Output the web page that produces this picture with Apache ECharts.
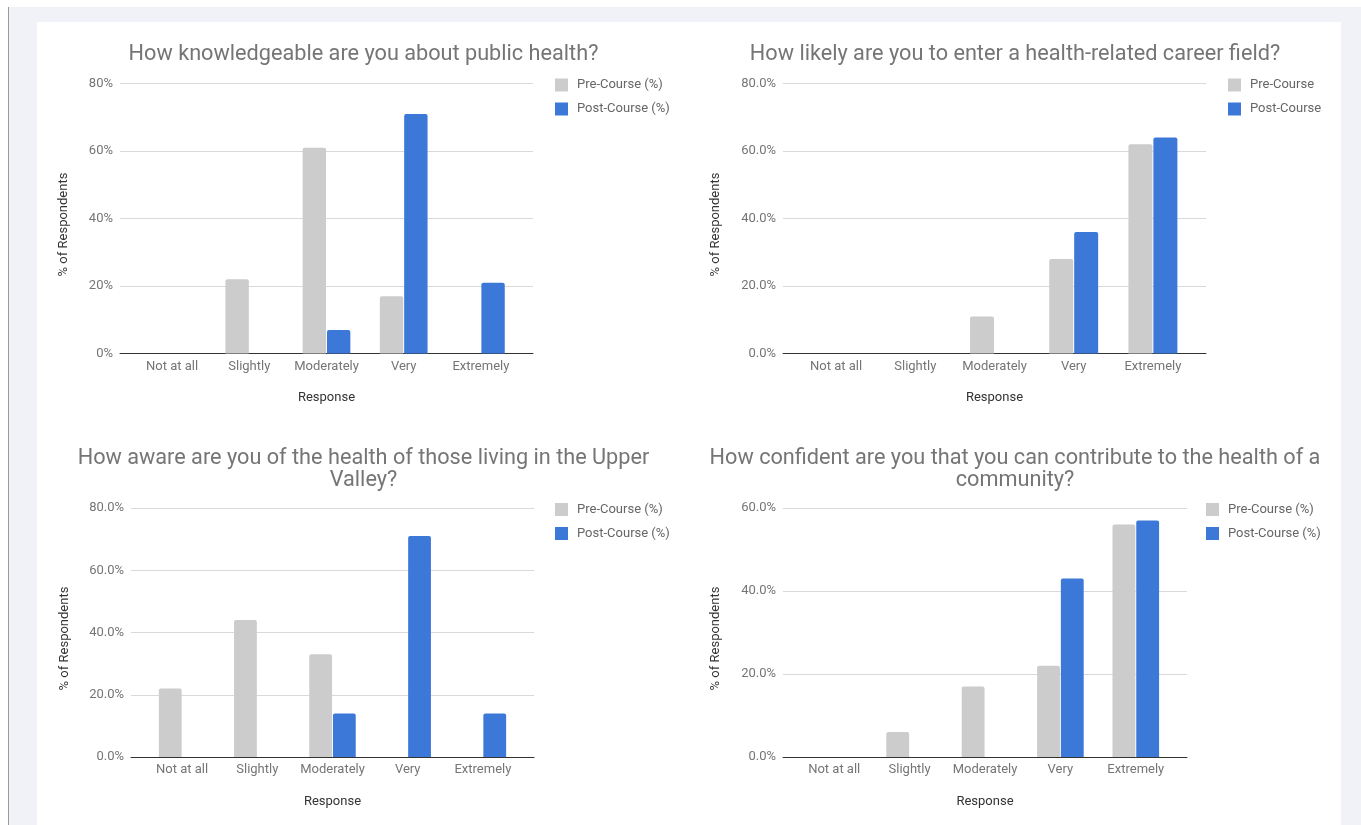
<!DOCTYPE html>
<html>
<head>
<meta charset="utf-8">
<title>Pre / Post course survey</title>
<script src="https://cdn.jsdelivr.net/npm/echarts@6/dist/echarts.min.js"></script>
<style>
  html, body { margin: 0; padding: 0; background: #fff; }
  #frame { position: absolute; left: 8px; top: 7px; width: 1352px; height: 818px; background: #f1f2f7; border-left: 1px solid #9a9a9a; }
  #panel { position: absolute; left: 37px; top: 22px; width: 1304px; height: 803px; background: #fff; }
  #chart { position: absolute; left: 0; top: 0; width: 1361px; height: 825px; }
</style>
</head>
<body>
<div id="frame"></div>
<div id="panel"></div>
<div id="chart"></div>
<script>
// survey answers, % of respondents
var categories = ["Not at all", "Slightly", "Moderately", "Very", "Extremely"];

var knowPre = [0, 22, 61, 17, 0];
var knowPost = [0, 0, 7, 71, 21];

var careerPre = [0, 0, 11, 28, 62];
var careerPost = [0, 0, 0, 36, 64];

var awarePre = [22, 44, 33, 0, 0];
var awarePost = [0, 0, 14, 71, 14];

var confPre = [0, 6, 17, 22, 56];
var confPost = [0, 0, 0, 43, 57];

var GRAY = "#cccccc";
var BLUE = "#3c78d8";
var FONT = "Roboto";
var INSET = 13.5; // google draws the baseline a bit wider than the bars

var panels = [
    { title: "How knowledgeable are you about public health?", titleX: 363.5, titleTop: 44,
      left: 120, top: 83.5, width: 413, height: 270, max: 80, digits: 0, nameGap: 50,
      legendLeft: 555, legendTop: 78.5, preName: "Pre-Course (%)", postName: "Post-Course (%)",
      pre: knowPre, post: knowPost },
    { title: "How likely are you to enter a health-related career field?", titleX: 1015, titleTop: 44,
      left: 783, top: 83.5, width: 423, height: 270, max: 80, digits: 1, nameGap: 61,
      legendLeft: 1228, legendTop: 78.5, preName: "Pre-Course", postName: "Post-Course",
      pre: careerPre, post: careerPost },
    { title: "How aware are you of the health of those living in the Upper\nValley?", titleX: 363.5, titleTop: 447.5,
      left: 131, top: 508, width: 403, height: 249, max: 80, digits: 1, nameGap: 60,
      legendLeft: 555, legendTop: 503, preName: "Pre-Course (%)", postName: "Post-Course (%)",
      pre: awarePre, post: awarePost },
    { title: "How confident are you that you can contribute to the health of a\ncommunity?", titleX: 1015, titleTop: 447.5,
      left: 783, top: 508, width: 404, height: 249, max: 60, digits: 1, nameGap: 61,
      legendLeft: 1206, legendTop: 503, preName: "Pre-Course (%)", postName: "Post-Course (%)",
      pre: confPre, post: confPost }
];

var option = { animation: false, title: [], legend: [], grid: [], xAxis: [], yAxis: [], series: [] };

panels.forEach(function(p, i) {
    var outer = i * 2;
    var inner = i * 2 + 1;
    var digits = p.digits;

    option.title.push({
        text: p.title, left: p.titleX, top: p.titleTop, textAlign: "center", padding: 0,
        textStyle: { fontFamily: FONT, fontSize: 21.7, fontWeight: "normal", color: "#757575", lineHeight: 22 }
    });
    option.legend.push({
        data: [p.preName, p.postName], orient: "vertical", left: p.legendLeft, top: p.legendTop, padding: 0,
        icon: "rect", itemWidth: 13, itemHeight: 13, itemGap: 11, itemTextGap: 9,
        textStyle: { fontFamily: FONT, fontSize: 13, color: "#666666", padding: [0, 0, 0, 4] }
    });

    // outer grid: gridlines, y labels and the dark baseline
    option.grid.push({ left: p.left, top: p.top, width: p.width, height: p.height, containLabel: false, outerBoundsMode: "none" });
    // inner grid: the bars and category labels
    option.grid.push({ left: p.left + INSET, top: p.top, width: p.width - 2 * INSET, height: p.height, containLabel: false, outerBoundsMode: "none" });

    option.xAxis.push({
        type: "category", gridIndex: outer, data: categories,
        axisLabel: { show: false }, axisTick: { show: false }, splitLine: { show: false },
        axisLine: { lineStyle: { color: "#333333", width: 1 } }
    });
    option.xAxis.push({
        type: "category", gridIndex: inner, data: categories,
        axisLine: { show: false }, axisTick: { show: false }, splitLine: { show: false },
        axisLabel: { margin: 6.5, fontFamily: FONT, fontSize: 13, color: "#757575", interval: 0 },
        name: "Response", nameLocation: "middle", nameGap: 38,
        nameTextStyle: { fontFamily: FONT, fontSize: 13, color: "#333333" }
    });

    option.yAxis.push({
        type: "value", gridIndex: outer, min: 0, max: p.max, interval: 20,
        axisLine: { show: false }, axisTick: { show: false },
        axisLabel: {
            margin: 7, fontFamily: FONT, fontSize: 13, color: "#757575",
            formatter: function(v) { return v.toFixed(digits) + "%"; }
        },
        splitLine: { lineStyle: { color: "#d9d9d9", width: 1 } },
        name: "% of Respondents", nameLocation: "middle", nameGap: p.nameGap,
        nameTextStyle: { fontFamily: FONT, fontSize: 13, color: "#333333", padding: [0, 12, 0, 0] }
    });
    option.yAxis.push({ type: "value", gridIndex: inner, min: 0, max: p.max, show: false });

    option.series.push({
        type: "bar", name: p.preName, xAxisIndex: inner, yAxisIndex: inner, data: p.pre,
        barCategoryGap: "38.2%", barGap: "4%",
        itemStyle: { color: GRAY, borderRadius: [2, 2, 0, 0] }
    });
    option.series.push({
        type: "bar", name: p.postName, xAxisIndex: inner, yAxisIndex: inner, data: p.post,
        barCategoryGap: "38.2%", barGap: "4%",
        itemStyle: { color: BLUE, borderRadius: [2, 2, 0, 0] }
    });
});

var chart = echarts.init(document.getElementById("chart"), null, { renderer: "canvas" });
chart.setOption(option);
</script>
</body>
</html>
